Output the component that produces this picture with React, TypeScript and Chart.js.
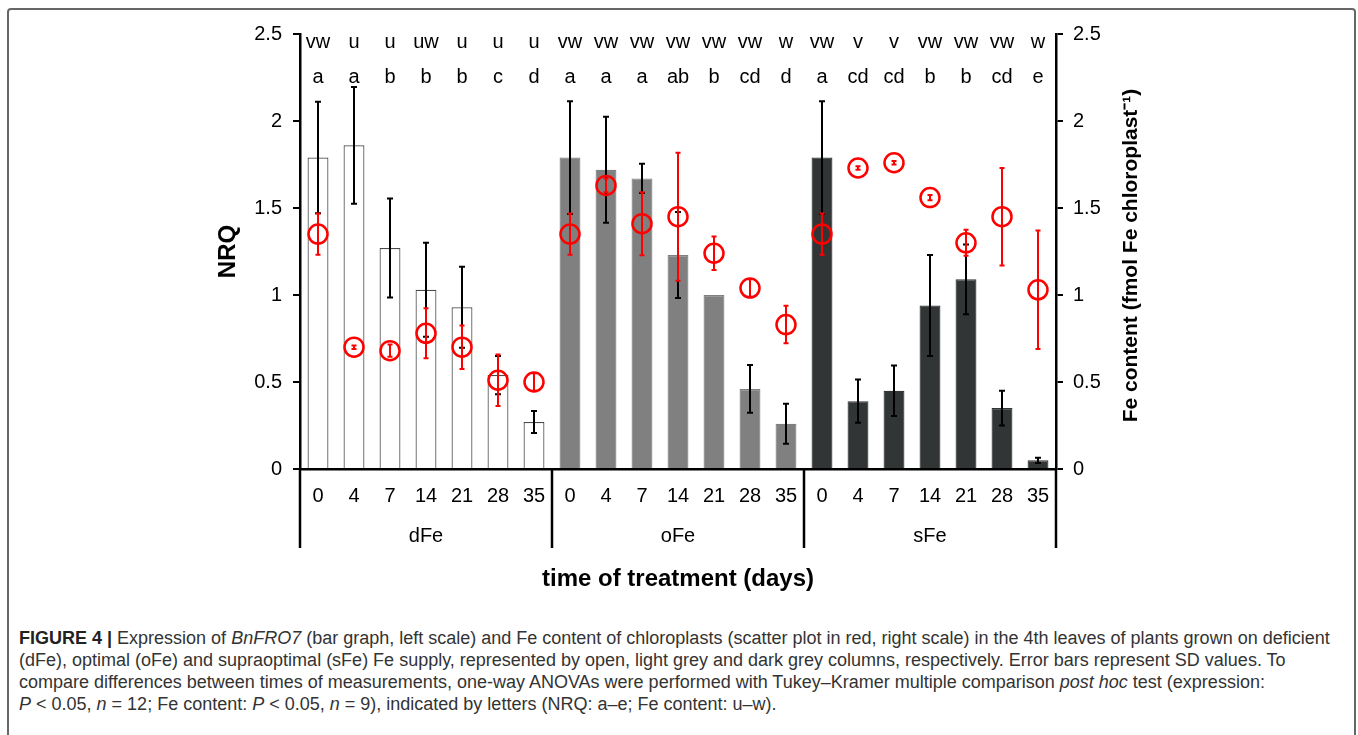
import React, { useEffect, useRef } from 'react';
import { Chart, registerables } from 'chart.js';
Chart.register(...registerables);

// ---- data ----
const days = ['0', '4', '7', '14', '21', '28', '35'];
const groups = ['dFe', 'oFe', 'sFe'];

const nrqDFe = [1.79, 1.86, 1.27, 1.03, 0.93, 0.54, 0.27];
const nrqOFe = [1.79, 1.72, 1.67, 1.23, 1.0, 0.46, 0.26];
const nrqSFe = [1.79, 0.39, 0.45, 0.94, 1.09, 0.35, 0.05];
const nrqSdDFe = [0.32, 0.335, 0.285, 0.27, 0.233, 0.11, 0.063];
const nrqSdOFe = [0.324, 0.305, 0.084, 0.247, 0, 0.137, 0.115];
const nrqSdSFe = [0.324, 0.124, 0.145, 0.29, 0.2, 0.1, 0.015];

const feDFe = [1.35, 0.7, 0.68, 0.78, 0.7, 0.51, 0.5];
const feOFe = [1.35, 1.63, 1.41, 1.45, 1.24, 1.04, 0.83];
const feSFe = [1.35, 1.73, 1.76, 1.56, 1.3, 1.45, 1.03];
const feSdDFe = [0.118, 0.01, 0.035, 0.144, 0.125, 0.148, 0.05];
const feSdOFe = [0.118, 0.04, 0.181, 0.368, 0.096, 0.05, 0.108];
const feSdSFe = [0.118, 0.01, 0.01, 0.015, 0.075, 0.28, 0.34];

const nrqLetters = ['a', 'a', 'b', 'b', 'b', 'c', 'd', 'a', 'a', 'a', 'ab', 'b', 'cd', 'd', 'a', 'cd', 'cd', 'b', 'b', 'cd', 'e'];
const feLetters = ['vw', 'u', 'u', 'uw', 'u', 'u', 'u', 'vw', 'vw', 'vw', 'vw', 'vw', 'vw', 'w', 'vw', 'v', 'v', 'vw', 'vw', 'vw', 'w'];

const groupColors = ['#ffffff', '#808080', '#323535'];
const groupBorders = ['#4a4a4a', '#808080', '#323535'];

const yMin = 0;
const yMax = 2.5;
const yStep = 0.5;

const leftTitle = 'NRQ';
const rightTitle = 'Fe content (fmol Fe chloroplast\u207B\u00B9)';
const xTitle = 'time of treatment (days)';

// ---- derived tables ----
const labels = groups.flatMap(() => days);
const nrq = [...nrqDFe, ...nrqOFe, ...nrqSFe];
const nrqSd = [...nrqSdDFe, ...nrqSdOFe, ...nrqSdSFe];
const fe = [...feDFe, ...feOFe, ...feSFe];
const feSd = [...feSdDFe, ...feSdOFe, ...feSdSFe];
const barFill = groups.flatMap((_, g) => days.map(() => groupColors[g]));
const barStroke = groups.flatMap((_, g) => days.map(() => groupBorders[g]));

const FONT = '"Liberation Sans", Arial, Helvetica, sans-serif';

const overlayPlugin = {
  id: 'overlay',
  afterDatasetDraw(chart: any, args: any) {
    const ctx = chart.ctx;
    const x = chart.scales.x;
    const drawErr = (vals: number[], sds: number[], scale: any, color: string, lw: number, cap: number) => {
      ctx.save();
      ctx.strokeStyle = color;
      ctx.lineWidth = lw;
      vals.forEach((v, i) => {
        const sd = sds[i];
        if (!sd) return;
        const px = x.getPixelForValue(i);
        const t = scale.getPixelForValue(v + sd);
        const b = scale.getPixelForValue(v - sd);
        ctx.beginPath();
        ctx.moveTo(px, t);
        ctx.lineTo(px, b);
        ctx.moveTo(px - cap, t);
        ctx.lineTo(px + cap, t);
        ctx.moveTo(px - cap, b);
        ctx.lineTo(px + cap, b);
        ctx.stroke();
      });
      ctx.restore();
    };
    if (args.index === 0) drawErr(nrq, nrqSd, chart.scales.y, '#000', 2, 3);
    if (args.index === 1) drawErr(fe, feSd, chart.scales.y1, '#ff0000', 2, 2.5);
  },
  afterDraw(chart: any) {
    const ctx = chart.ctx;
    const x = chart.scales.x;
    const area = chart.chartArea;
    ctx.save();
    // significance letters
    ctx.fillStyle = '#000';
    ctx.font = `20px ${FONT}`;
    ctx.textAlign = 'center';
    ctx.textBaseline = 'alphabetic';
    labels.forEach((_, i) => {
      const px = x.getPixelForValue(i);
      ctx.fillText(feLetters[i], px, area.top + 14);
      ctx.fillText(nrqLetters[i], px, area.top + 49);
    });
    // multi-level category separators
    const sepBottom = area.bottom + 79;
    ctx.strokeStyle = '#000';
    ctx.lineWidth = 2.5;
    const bounds: number[] = [area.left];
    for (let g = 1; g < groups.length; g++) {
      const i = g * days.length;
      bounds.push((x.getPixelForValue(i - 1) + x.getPixelForValue(i)) / 2);
    }
    bounds.push(area.right);
    bounds.forEach((bx) => {
      ctx.beginPath();
      ctx.moveTo(bx, area.bottom);
      ctx.lineTo(bx, sepBottom);
      ctx.stroke();
    });
    // group labels
    ctx.textBaseline = 'middle';
    ctx.font = `20px ${FONT}`;
    groups.forEach((g, k) => {
      ctx.fillText(g, (bounds[k] + bounds[k + 1]) / 2, area.bottom + 67);
    });
    // axis titles
    ctx.font = `bold 24px ${FONT}`;
    ctx.fillText(xTitle, (area.left + area.right) / 2, area.bottom + 110);
    const midY = (area.top + area.bottom) / 2;
    ctx.save();
    ctx.translate(area.left - 72, midY);
    ctx.rotate(-Math.PI / 2);
    ctx.font = `bold 24px ${FONT}`;
    ctx.fillText(leftTitle, 0, 0);
    ctx.restore();
    ctx.save();
    ctx.translate(area.right + 75, midY + 4);
    ctx.rotate(-Math.PI / 2);
    ctx.font = `bold 21px ${FONT}`;
    ctx.fillText(rightTitle, 0, 0);
    ctx.restore();
    ctx.restore();
  },
};

function ChartCanvas() {
  const ref = useRef<HTMLCanvasElement | null>(null);
  useEffect(() => {
    if (!ref.current) return;
    const tickFont = { family: FONT, size: 20 };
    const fmt = (v: any) => String(+v);
    const chart = new Chart(ref.current, {
      type: 'bar',
      data: {
        labels,
        datasets: [
          {
            type: 'bar',
            data: nrq,
            backgroundColor: barFill,
            borderColor: barStroke,
            borderWidth: 1.2,
            categoryPercentage: 1,
            barPercentage: 0.58,
            yAxisID: 'y',
            order: 2,
          } as any,
          {
            type: 'line',
            data: fe,
            yAxisID: 'y1',
            showLine: false,
            pointRadius: 9.5,
            pointHoverRadius: 9.5,
            pointBorderWidth: 2.5,
            pointBorderColor: '#ff0000',
            pointBackgroundColor: 'rgba(0,0,0,0)',
            order: 1,
          } as any,
        ],
      },
      options: {
        responsive: false,
        animation: false,
        events: [],
        layout: { padding: { left: 0, right: 0, top: 34, bottom: 91 } },
        plugins: { legend: { display: false }, tooltip: { enabled: false } },
        scales: {
          x: {
            type: 'category',
            offset: true,
            grid: { display: false, drawTicks: false },
            border: { display: true, color: '#000', width: 2.5 },
            ticks: { color: '#000', font: tickFont, padding: 15, maxRotation: 0, autoSkip: false },
            afterFit: (s: any) => { s.height = 40; },
          },
          y: {
            position: 'left',
            min: yMin,
            max: yMax,
            grid: { drawOnChartArea: false, color: '#000', tickLength: 7, lineWidth: 2 },
            border: { display: true, color: '#000', width: 2.5 },
            ticks: { stepSize: yStep, color: '#000', font: tickFont, padding: 11, callback: fmt },
            afterFit: (s: any) => { s.width = 300; },
          },
          y1: {
            position: 'right',
            min: yMin,
            max: yMax,
            grid: { drawOnChartArea: false, color: '#000', tickLength: 7, lineWidth: 2 },
            border: { display: true, color: '#000', width: 2.5 },
            ticks: { stepSize: yStep, color: '#000', font: tickFont, padding: 10, callback: fmt },
            afterFit: (s: any) => { s.width = 302; },
          },
        },
      },
      plugins: [overlayPlugin],
    } as any);
    return () => chart.destroy();
  }, []);
  return (
    <canvas
      ref={ref}
      width={1358}
      height={600}
      style={{ position: 'absolute', left: 0, top: 0, width: 1358, height: 600 }}
    />
  );
}

export default function App() {
  const cap: React.CSSProperties = {
    position: 'absolute',
    left: 19,
    top: 627,
    fontFamily: FONT,
    fontSize: 18,
    lineHeight: '22px',
    color: '#333',
    whiteSpace: 'nowrap',
  };
  return (
    <div style={{ position: 'absolute', left: 0, top: 0, width: 1358, height: 735, overflow: 'hidden', background: '#fff' }}>
      <div
        style={{
          position: 'absolute',
          left: 7,
          top: 8,
          width: 1349,
          height: 740,
          border: '2px solid #666',
          borderRadius: 4,
          boxSizing: 'border-box',
        }}
      />
      <ChartCanvas />
      <div style={cap}>
        <b style={{ color: '#222' }}>FIGURE 4 |</b> Expression of <i>BnFRO7</i> (bar graph, left scale) and Fe content of chloroplasts (scatter plot in red, right scale) in the 4th leaves of plants grown on deficient
        <br />
        (dFe), optimal (oFe) and supraoptimal (sFe) Fe supply, represented by open, light grey and dark grey columns, respectively. Error bars represent SD values. To
        <br />
        compare differences between times of measurements, one-way ANOVAs were performed with Tukey–Kramer multiple comparison <i>post hoc</i> test (expression:
        <br />
        <i>P</i> &lt; 0.05, <i>n</i> = 12; Fe content: <i>P</i> &lt; 0.05, <i>n</i> = 9), indicated by letters (NRQ: a–e; Fe content: u–w).
      </div>
    </div>
  );
}
